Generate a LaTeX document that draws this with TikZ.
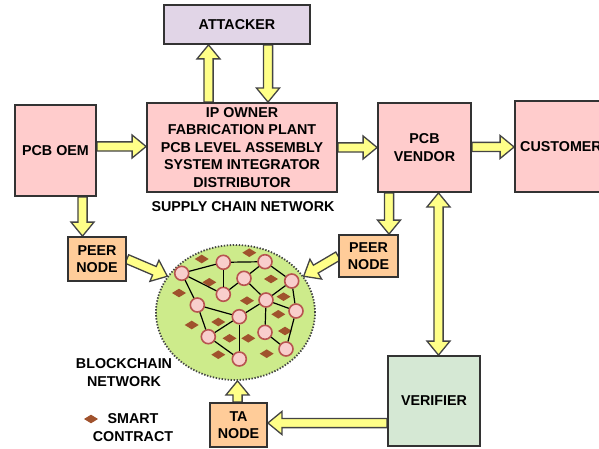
\documentclass[tikz,border=0pt]{standalone}
\usepackage{fontspec}
\setmainfont{Liberation Sans}
\usetikzlibrary{calc,shapes.geometric}

\definecolor{boxline}{HTML}{333333}
\definecolor{arrowline}{HTML}{444444}
\definecolor{arrowfill}{HTML}{FFFF88}
\definecolor{pinkfill}{HTML}{FFCCCC}
\definecolor{lavender}{HTML}{E1D5E7}
\definecolor{peach}{HTML}{FFCC99}
\definecolor{mint}{HTML}{D5E8D4}
\definecolor{chaingreen}{HTML}{CDEB8B}
\definecolor{memberfill}{HTML}{F8CECC}
\definecolor{memberline}{HTML}{B85450}
\definecolor{contractbrown}{HTML}{A0522D}

\pgfdeclarelayer{arrowlayer}
\pgfsetlayers{arrowlayer,main}

% fat block arrow dimensions
\def\shw{4.6pt}  % half shaft width
\def\hdw{11.5pt} % half head width
\def\hdl{14pt}   % head length

% single-headed block arrow from #1 to #2
\newcommand\fatarrow[2]{%
  \path[blockarrow] let \p1=(#1), \p2=(#2),
    \n1={atan2(\y2-\y1,\x2-\x1)}, \n2={veclen(\x2-\x1,\y2-\y1)} in
    ($(\p1)+(\n1+90:\shw)$)
    -- ($(\p1)+(\n1:\n2-\hdl)+(\n1+90:\shw)$)
    -- ($(\p1)+(\n1:\n2-\hdl)+(\n1+90:\hdw)$)
    -- (\p2)
    -- ($(\p1)+(\n1:\n2-\hdl)+(\n1-90:\hdw)$)
    -- ($(\p1)+(\n1:\n2-\hdl)+(\n1-90:\shw)$)
    -- ($(\p1)+(\n1-90:\shw)$) -- cycle;}

% double-headed block arrow between #1 and #2
\newcommand\fatdarrow[2]{%
  \path[blockarrow] let \p1=(#1), \p2=(#2),
    \n1={atan2(\y2-\y1,\x2-\x1)}, \n2={veclen(\x2-\x1,\y2-\y1)} in
    (\p1)
    -- ($(\p1)+(\n1:\hdl)+(\n1+90:\hdw)$)
    -- ($(\p1)+(\n1:\hdl)+(\n1+90:\shw)$)
    -- ($(\p1)+(\n1:\n2-\hdl)+(\n1+90:\shw)$)
    -- ($(\p1)+(\n1:\n2-\hdl)+(\n1+90:\hdw)$)
    -- (\p2)
    -- ($(\p1)+(\n1:\n2-\hdl)+(\n1-90:\hdw)$)
    -- ($(\p1)+(\n1:\n2-\hdl)+(\n1-90:\shw)$)
    -- ($(\p1)+(\n1:\hdl)+(\n1-90:\shw)$)
    -- ($(\p1)+(\n1:\hdl)+(\n1-90:\hdw)$) -- cycle;}

\tikzset{
  box/.style={draw=boxline, line width=1.8pt, align=center, inner sep=0pt},
  blockarrow/.style={draw=arrowline, fill=arrowfill, line width=1.3pt, line join=miter},
  member/.style={circle, draw=memberline, fill=memberfill, line width=1.6pt,
    minimum size=14pt, inner sep=0pt},
  link/.style={line width=1.2pt, black},
  label/.style={align=center, inner sep=0pt},
  contract/.pic={\fill[contractbrown] (-7,0) -- (0,4.3) -- (7,0) -- (0,-4.3) -- cycle;}
}

\begin{document}
\begin{tikzpicture}[x=1pt, y=-1pt, font=\fontsize{14.3}{17.5}\selectfont\bfseries]
\useasboundingbox (0,0) rectangle (599,449);

% supply chain boxes
\node[box, fill=lavender, minimum width=146pt, minimum height=39pt] (attacker) at (237,24.5) {ATTACKER};
\node[box, fill=pinkfill, minimum width=190pt, minimum height=89pt] (ip) at (242,147.5)
  {IP OWNER\\FABRICATION PLANT\\PCB LEVEL ASSEMBLY\\SYSTEM INTEGRATOR\\DISTRIBUTOR};
\node[box, fill=pinkfill, minimum width=81pt, minimum height=91pt] (oem) at (55.5,150.5) {PCB OEM};
\node[box, fill=pinkfill, minimum width=93pt, minimum height=89pt] (vendor) at (424.5,147.5) {PCB\\VENDOR};
\node[box, fill=pinkfill, minimum width=92pt, minimum height=91pt] (customer) at (561,146.5) {CUSTOMER};
\node[label] (scn) at (243,207) {SUPPLY CHAIN NETWORK};

% peer, TA and verifier boxes
\node[box, fill=peach, minimum width=58pt, minimum height=44pt] (peerL) at (97,259) {PEER\\NODE};
\node[box, fill=peach, minimum width=59pt, minimum height=42pt] (peerR) at (368.5,256) {PEER\\NODE};
\node[box, fill=peach, minimum width=57pt, minimum height=44pt] (ta) at (238.5,425) {TA\\NODE};
\node[box, fill=mint, minimum width=92pt, minimum height=90pt] (verifier) at (434,401) {VERIFIER};

% blockchain network
\node[ellipse, fill=chaingreen, draw=arrowline, line width=1.8pt,
  dash pattern=on 1.4pt off 1.6pt, minimum width=159pt, minimum height=135pt,
  inner sep=0pt] (chain) at (235.5,312.5) {};

\foreach \p in {(201.7,259),(249.3,252.7),(209.3,282.3),(179,293),(271,279),
  (247,300.7),(283.5,296.7),(191.7,325),(218.3,322),(278.3,314.3),(229.5,338.3),
  (248.3,338.3),(285,331),(218.3,354.7),(266.7,353.7)}
  \pic at \p {contract};

\node[member] (n1) at (181.7,273.3) {};
\node[member] (n2) at (223.3,262.3) {};
\node[member] (n3) at (265,261.7) {};
\node[member] (n4) at (244,278.3) {};
\node[member] (n5) at (291.7,281) {};
\node[member] (n6) at (223.3,294.3) {};
\node[member] (n7) at (266,300) {};
\node[member] (n8) at (197.3,305) {};
\node[member] (n9) at (296,311) {};
\node[member] (n10) at (239.3,316.7) {};
\node[member] (n11) at (265,332.3) {};
\node[member] (n12) at (208.3,336.7) {};
\node[member] (n13) at (286,349) {};
\node[member] (n14) at (239.3,359) {};

\foreach \a/\b in {n1/n2,n1/n6,n1/n8,n2/n6,n2/n3,n6/n4,n3/n4,n3/n5,n4/n7,n5/n7,
  n5/n9,n7/n9,n7/n10,n7/n11,n8/n10,n8/n12,n12/n10,n12/n14,n10/n14,n11/n13,n9/n13}
  \draw[link] (\a) -- (\b);

\node[label] (bcn) at (124,372.5) {BLOCKCHAIN\\NETWORK};

% legend
\pic at (91,419) {contract};
\node[label] (legend) at (133,427.5) {SMART\\CONTRACT};

% block arrows
\begin{pgfonlayer}{arrowlayer}
\fatarrow{[xshift=-33.5pt]ip.north}{[xshift=-28.5pt]attacker.south}
\fatarrow{[xshift=31pt]attacker.south}{[xshift=26pt]ip.north}
\fatarrow{[yshift=4pt]oem.east}{[yshift=1pt]ip.west}
\fatarrow{ip.east}{vendor.west}
\fatarrow{[yshift=0.5pt]vendor.east}{[yshift=0.5pt]vendor.east -| customer.west}
\fatarrow{[xshift=27pt]oem.south}{[xshift=-14.5pt]peerL.north}
\fatarrow{[xshift=-35.5pt]vendor.south}{[xshift=20.5pt]peerR.north}
\fatdarrow{[xshift=14pt]vendor.south}{[xshift=4.5pt]verifier.north}
\fatarrow{[yshift=-22pt]verifier.west}{[yshift=2pt]ta.east}
\fatarrow{[xshift=-1pt]ta.north}{[xshift=2pt]chain.south}
\fatarrow{peerL.east}{chain.152}
\fatarrow{peerR.west}{chain.28.6}
\end{pgfonlayer}
\end{tikzpicture}
\end{document}
